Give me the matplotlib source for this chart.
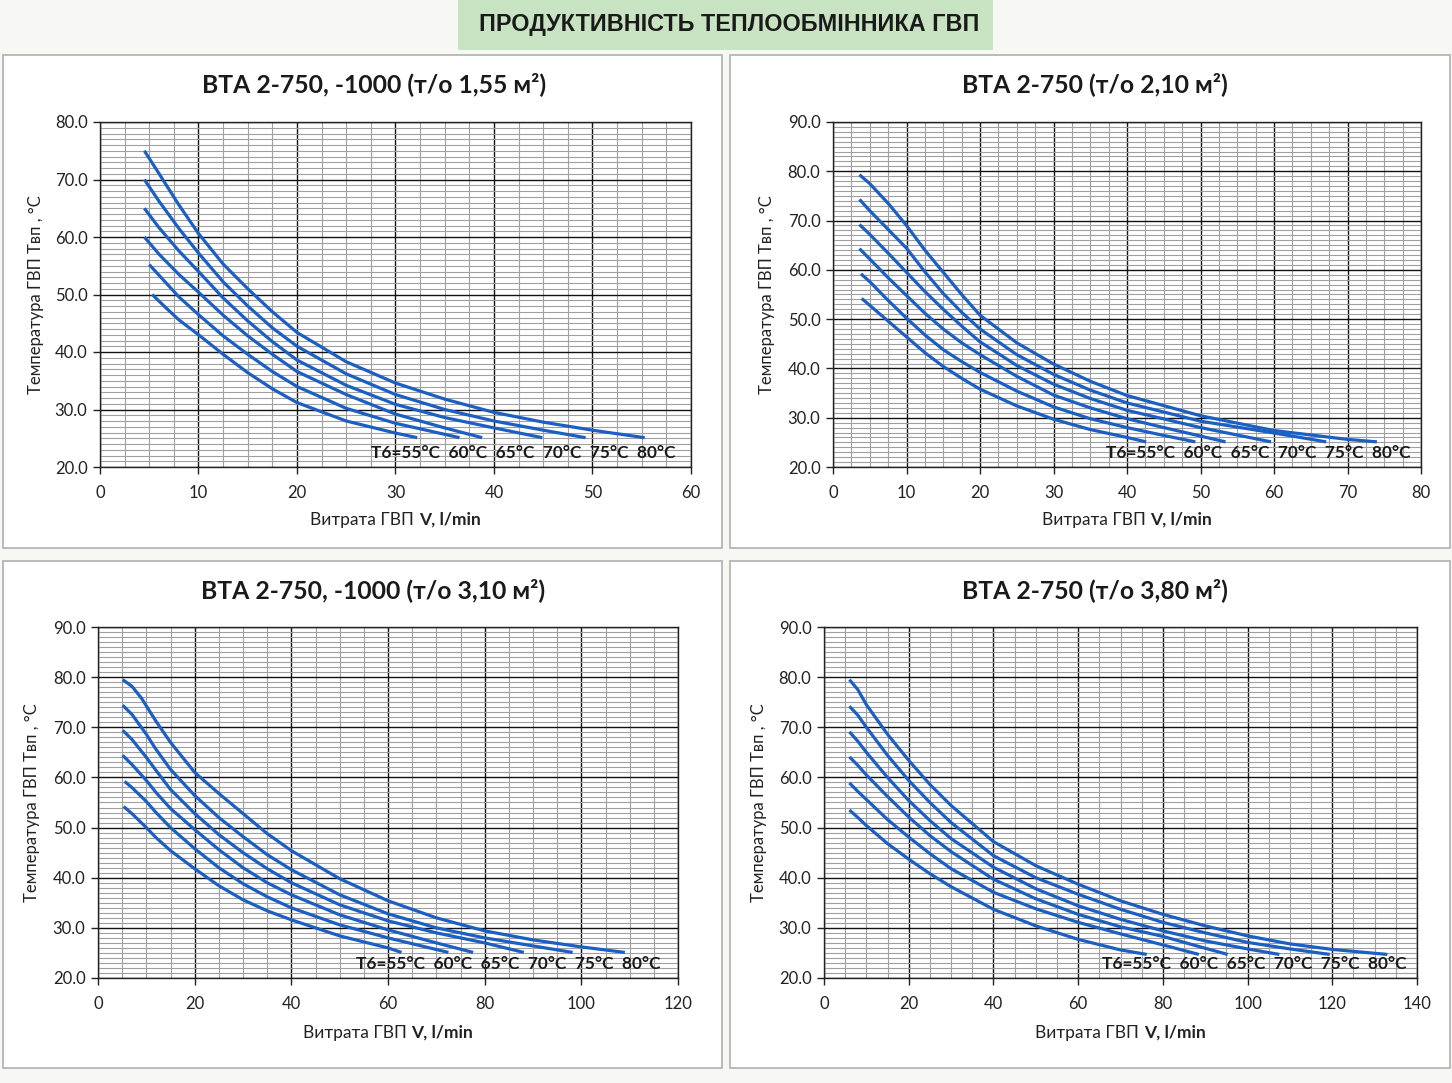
import matplotlib
matplotlib.use("Agg")
import matplotlib.pyplot as plt
from matplotlib.patches import Rectangle
from matplotlib.offsetbox import TextArea, HPacker, AnchoredOffsetbox
from matplotlib.ticker import MultipleLocator, FormatStrFormatter

plt.rcParams['font.family'] = ['Lato', 'Noto Sans', 'DejaVu Sans']

# ---------------- data ----------------
main_title = "ПРОДУКТИВНІСТЬ ТЕПЛООБМІННИКА ГВП"
panel_titles = ["BTA 2-750, -1000 (т/о 1,55 м²)", "BTA 2-750 (т/о 2,10 м²)",
                "BTA 2-750, -1000 (т/о 3,10 м²)", "BTA 2-750 (т/о 3,80 м²)"]
series_labels = ["55", "60", "65", "70", "75", "80"]
ylabel_text = "Температура ГВП Твп , °C"
xlabel_normal = "Витрата ГВП "
xlabel_bold = "V, l/min"

# Panel 1 (1.55 m2)
p1_x55 = [5.3, 6.5, 8, 10, 12.5, 15, 17.5, 20, 25, 30, 32.2]
p1_y55 = [50.0, 48.0, 45.6, 43.0, 39.6, 36.4, 33.6, 31.2, 28.0, 25.9, 25.1]
p1_x60 = [5.0, 6.5, 8, 10, 12.5, 15, 17.5, 20, 25, 30, 36.5]
p1_y60 = [55.2, 52.4, 49.6, 46.5, 42.8, 39.6, 36.6, 34.0, 30.2, 27.6, 25.1]
p1_x65 = [4.5, 6, 8, 10, 12.5, 15, 17.5, 20, 25, 30, 35, 38.8]
p1_y65 = [60.0, 57.0, 53.5, 50.4, 46.4, 42.8, 39.6, 36.6, 32.6, 29.2, 26.8, 25.1]
p1_x70 = [4.5, 6, 8, 10, 12.5, 15, 17.5, 20, 25, 30, 35, 40, 44.9]
p1_y70 = [65.0, 61.6, 57.6, 54.0, 49.4, 45.4, 41.8, 38.6, 34.2, 30.9, 28.6, 26.8, 25.1]
p1_x75 = [4.5, 6, 8, 10, 12.5, 15, 17.5, 20, 25, 30, 35, 40, 45, 49.3]
p1_y75 = [70.0, 66.2, 61.5, 57.2, 52.2, 48.0, 44.2, 41.0, 36.2, 32.6, 30.0, 28.0, 26.4, 25.1]
p1_x80 = [4.5, 6, 8, 10, 12.5, 15, 17.5, 20, 25, 30, 35, 40, 45, 50, 55.3]
p1_y80 = [75.0, 71.0, 65.6, 60.6, 55.3, 51.0, 47.0, 43.4, 38.3, 34.6, 31.8, 29.5, 27.8, 26.4, 25.1]

# Panel 2 (2.10 m2)
p2_x55 = [3.9, 5, 7.5, 10, 12.5, 15, 17.5, 20, 25, 30, 35, 40, 42.6]
p2_y55 = [54.2, 52.8, 49.6, 46.4, 43.2, 40.4, 38.0, 35.8, 32.4, 29.7, 27.6, 26.0, 25.1]
p2_x60 = [3.8, 5, 7.5, 10, 12.5, 15, 17.5, 20, 25, 30, 35, 40, 45, 49.3]
p2_y60 = [59.2, 57.6, 53.8, 50.2, 46.8, 43.8, 41.4, 39.2, 35.4, 32.2, 29.8, 28.0, 26.4, 25.1]
p2_x65 = [3.6, 5, 7.5, 10, 12.5, 15, 17.5, 20, 25, 30, 35, 40, 45, 53.4]
p2_y65 = [64.3, 62.2, 58.4, 54.8, 51.2, 48.0, 45.2, 42.8, 38.4, 34.6, 32.0, 29.8, 28.0, 25.1]
p2_x70 = [3.6, 5, 7.5, 10, 12.5, 15, 17.5, 20, 25, 30, 35, 40, 50, 59.6]
p2_y70 = [69.2, 67.2, 63.4, 59.5, 55.6, 52.0, 48.6, 45.4, 40.6, 36.8, 33.9, 31.5, 28.0, 25.1]
p2_x75 = [3.6, 5, 7.5, 10, 12.5, 15, 17.5, 20, 25, 30, 35, 40, 50, 60, 67.1]
p2_y75 = [74.3, 72.0, 68.2, 64.4, 59.6, 55.2, 51.4, 48.0, 42.8, 38.8, 35.6, 33.0, 29.3, 26.9, 25.1]
p2_x80 = [3.6, 5, 7.5, 10, 12.5, 15, 17.5, 20, 25, 30, 35, 40, 50, 60, 70, 74]
p2_y80 = [79.3, 77.5, 73.5, 69.0, 64.0, 59.5, 55.0, 50.8, 45.2, 40.9, 37.4, 34.5, 30.4, 27.4, 25.6, 25.1]

# Panel 3 (3.10 m2)
p3_x55 = [5.3, 7, 10, 12, 15, 20, 25, 30, 35, 40, 50, 60, 62.8]
p3_y55 = [54.2, 52.8, 50.0, 48.0, 45.4, 41.8, 38.4, 35.6, 33.4, 31.6, 28.4, 26.0, 25.1]
p3_x60 = [5.5, 7, 10, 12, 15, 20, 25, 30, 35, 40, 50, 60, 72.5]
p3_y60 = [59.2, 58.0, 55.2, 53.0, 50.0, 45.8, 42.0, 38.8, 36.2, 34.0, 30.6, 28.0, 25.1]
p3_x65 = [5.1, 7, 10, 12, 15, 20, 25, 30, 35, 40, 50, 60, 70, 77.6]
p3_y65 = [64.4, 62.6, 59.4, 57.0, 53.8, 49.6, 45.6, 42.0, 39.0, 36.6, 32.6, 29.6, 27.0, 25.1]
p3_x70 = [5.1, 7, 10, 12, 15, 20, 25, 30, 35, 40, 50, 60, 70, 80, 88.1]
p3_y70 = [69.4, 67.6, 64.0, 61.4, 57.6, 52.8, 48.6, 45.0, 41.8, 39.0, 34.6, 31.4, 29.0, 27.0, 25.1]
p3_x75 = [5.1, 7, 10, 12, 15, 20, 25, 30, 35, 40, 50, 60, 70, 80, 90, 98.2]
p3_y75 = [74.4, 72.6, 68.6, 65.6, 61.6, 56.4, 52.0, 48.2, 44.6, 41.6, 36.6, 32.8, 30.0, 28.0, 26.4, 25.1]
p3_x80 = [5.1, 7, 9, 12, 15, 20, 25, 30, 35, 40, 50, 60, 70, 80, 90, 100, 109]
p3_y80 = [79.5, 78.2, 75.8, 71.2, 67.0, 61.0, 56.8, 52.8, 48.8, 45.4, 39.8, 35.4, 32.0, 29.4, 27.6, 26.2, 25.1]

# Panel 4 (3.80 m2)
p4_x55 = [6, 8, 10, 15, 20, 25, 30, 40, 50, 60, 70, 76.2]
p4_y55 = [53.5, 52.0, 50.4, 46.8, 43.7, 40.8, 38.2, 33.7, 30.4, 27.7, 25.6, 24.7]
p4_x60 = [6, 8, 10, 15, 20, 25, 30, 40, 50, 60, 70, 80, 88.5]
p4_y60 = [58.9, 57.2, 55.6, 51.6, 48.1, 44.8, 41.8, 37.1, 33.8, 31.1, 28.8, 26.6, 24.7]
p4_x65 = [6, 8, 10, 15, 20, 25, 30, 40, 50, 60, 70, 80, 88, 95.3]
p4_y65 = [64.1, 62.4, 60.5, 56.2, 52.1, 48.4, 45.2, 39.7, 35.8, 32.7, 30.2, 28.3, 26.4, 24.7]
p4_x70 = [6, 8, 10, 15, 20, 25, 30, 40, 50, 60, 70, 80, 90, 100, 107.5]
p4_y70 = [69.1, 67.2, 65.0, 60.0, 55.4, 51.4, 47.8, 42.1, 37.8, 34.4, 31.7, 29.4, 27.4, 25.8, 24.7]
p4_x75 = [6, 8, 10, 15, 20, 25, 30, 40, 50, 60, 70, 80, 90, 100, 110, 119.4]
p4_y75 = [74.2, 72.4, 70.0, 64.4, 59.4, 55.0, 51.0, 44.4, 40.0, 36.7, 33.7, 31.1, 29.0, 27.1, 25.8, 24.7]
p4_x80 = [6, 8, 10, 15, 20, 25, 30, 40, 50, 60, 70, 80, 90, 100, 110, 120, 133]
p4_y80 = [79.5, 77.5, 74.5, 68.6, 63.4, 58.6, 54.4, 47.2, 42.4, 38.7, 35.4, 32.7, 30.4, 28.4, 26.8, 25.7, 24.7]

# ---------------- layout ----------------
W, H = 1452, 1083
fig = plt.figure(figsize=(W / 100, H / 100), dpi=100, facecolor='#f7f8f3')


def fig_rect(l, t, r, b):
    return [l / W, 1 - b / H, (r - l) / W, (b - t) / H]


# title box
tb = fig_rect(458, 0, 993, 50)
fig.patches.append(Rectangle((tb[0], tb[1]), tb[2], tb[3], transform=fig.transFigure,
                             facecolor='#c7e3c1', edgecolor='none', zorder=-5))
fig.text((458 + 993) / 2 / W + 4 / W, 1 - 25 / H, main_title, ha='center', va='center',
         fontsize=16.8, fontweight='bold', family=['Liberation Sans', 'DejaVu Sans'], color='#1a1a1a')

panels = [
    dict(frame=(3, 55, 722, 548), ax=(100, 122, 691, 467), xmax=60, xmaj=10, xmin=2.5, ymax=80,
         title=(374, 84), xs=[p1_x55, p1_x60, p1_x65, p1_x70, p1_x75, p1_x80],
         ys=[p1_y55, p1_y60, p1_y65, p1_y70, p1_y75, p1_y80], ylab=44, xlab=520, lab_r=676),
    dict(frame=(730, 55, 1450, 548), ax=(833, 122, 1421, 467), xmax=80, xmaj=10, xmin=2.5, ymax=90,
         title=(1095, 84), xs=[p2_x55, p2_x60, p2_x65, p2_x70, p2_x75, p2_x80],
         ys=[p2_y55, p2_y60, p2_y65, p2_y70, p2_y75, p2_y80], ylab=775, xlab=520, lab_r=1410),
    dict(frame=(3, 561, 722, 1068), ax=(98, 627, 678, 978), xmax=120, xmaj=20, xmin=5, ymax=90,
         title=(373, 590), xs=[p3_x55, p3_x60, p3_x65, p3_x70, p3_x75, p3_x80],
         ys=[p3_y55, p3_y60, p3_y65, p3_y70, p3_y75, p3_y80], ylab=40, xlab=1033, lab_r=660),
    dict(frame=(730, 561, 1450, 1068), ax=(824, 627, 1417, 978), xmax=140, xmaj=20, xmin=5, ymax=90,
         title=(1095, 590), xs=[p4_x55, p4_x60, p4_x65, p4_x70, p4_x75, p4_x80],
         ys=[p4_y55, p4_y60, p4_y65, p4_y70, p4_y75, p4_y80], ylab=767, xlab=1033, lab_r=1407),
]

line_color = '#1c5fc2'
label_text = "Т6=55°C  60°C  65°C  70°C  75°C  80°C"

for p, title in zip(panels, panel_titles):
    fl, ft, fr, fb = p['frame']
    r = fig_rect(fl, ft, fr, fb)
    fig.patches.append(Rectangle((r[0], r[1]), r[2], r[3], transform=fig.transFigure,
                                 facecolor='white', edgecolor='#b5b5b5', linewidth=1.3, zorder=-5))
    tx, ty = p['title']
    fig.text(tx / W, 1 - ty / H, title, ha='center', va='center',
             fontsize=17.8, fontweight='bold', color='#1a1a1a')

    al, at, ar, ab = p['ax']
    ax = fig.add_axes(fig_rect(al, at, ar, ab))
    ax.set_facecolor('white')
    ax.set_xlim(0, p['xmax'])
    ax.set_ylim(20, p['ymax'])
    ax.xaxis.set_major_locator(MultipleLocator(p['xmaj']))
    ax.xaxis.set_minor_locator(MultipleLocator(p['xmin']))
    ax.yaxis.set_major_locator(MultipleLocator(10))
    ax.yaxis.set_minor_locator(MultipleLocator(1))
    ax.yaxis.set_major_formatter(FormatStrFormatter('%.1f'))
    ax.grid(which='minor', color='#a0a0a0', linewidth=0.8)
    ax.grid(which='major', color='#111111', linewidth=1.0)
    ax.set_axisbelow(True)
    ax.tick_params(which='major', direction='out', length=5, width=1, labelsize=12,
                   colors='#222222', pad=8)
    ax.tick_params(which='minor', length=0)
    ax.tick_params(axis='y', pad=4)
    for s in ax.spines.values():
        s.set_color('#222222')
        s.set_linewidth(1.0)

    for xv, yv in zip(p['xs'], p['ys']):
        ax.plot(xv, yv, color=line_color, linewidth=2.3, solid_capstyle='butt',
                solid_joinstyle='round', zorder=3)

    w = ar - al
    h = ab - at
    ax.text((p['lab_r'] - al) / w, 0.04, label_text, transform=ax.transAxes, ha='right',
            va='center', fontsize=12.4, fontweight='bold', color='#1a1a1a', zorder=4)

    ax.set_ylabel(ylabel_text, fontsize=12, color='#222222')
    ax.yaxis.set_label_coords((p['ylab'] - al) / w, 0.5)

    ta1 = TextArea(xlabel_normal, textprops=dict(fontsize=12.5, color='#222222'))
    ta2 = TextArea(xlabel_bold, textprops=dict(fontsize=12.5, fontweight='bold', color='#222222'))
    box = HPacker(children=[ta1, ta2], align='baseline', pad=0, sep=0)
    anch = AnchoredOffsetbox(loc='center', child=box, frameon=False, pad=0, borderpad=0,
                             bbox_to_anchor=(0.5, -(p['xlab'] - ab) / h),
                             bbox_transform=ax.transAxes)
    ax.add_artist(anch)

fig.savefig('out.png', dpi=100, facecolor=fig.get_facecolor())
